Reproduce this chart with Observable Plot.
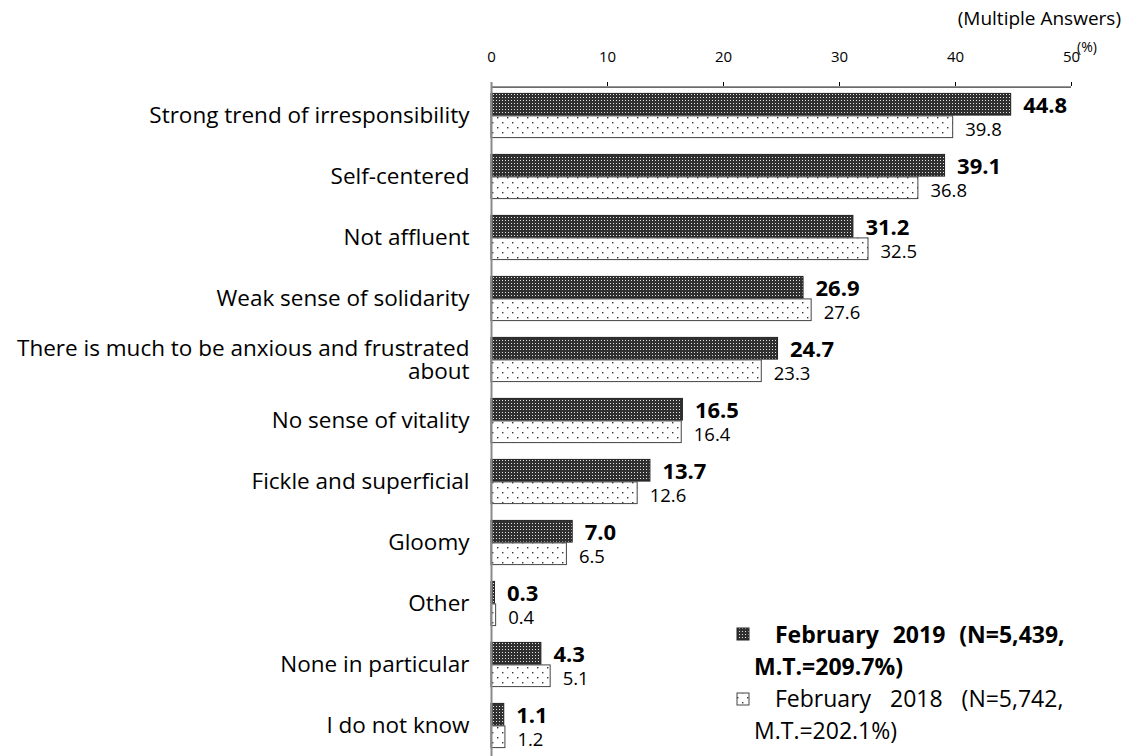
<!DOCTYPE html>
<html><head><meta charset="utf-8">
<script src="https://cdn.jsdelivr.net/npm/d3@7"></script>
<script src="https://cdn.jsdelivr.net/npm/@observablehq/plot@0.6"></script>
<style>body{margin:0;background:#fff}</style>
</head><body><div id="chart"></div><script>
const categories = ["Strong trend of irresponsibility","Self-centered","Not affluent","Weak sense of solidarity","There is much to be anxious and frustrated about","No sense of vitality","Fickle and superficial","Gloomy","Other","None in particular","I do not know"];
const v2019 = [44.8,39.1,31.2,26.9,24.7,16.5,13.7,7.0,0.3,4.3,1.1];
const v2018 = [39.8,36.8,32.5,27.6,23.3,16.4,12.6,6.5,0.4,5.1,1.2];
const xTicks = [0,10,20,30,40,50];
const legendLines = [["February 2019 (N=5,439,","M.T.=209.7%)"],["February 2018 (N=5,742,","M.T.=202.1%)"]];

const d19 = categories.map((c,i)=>({c, v:v2019[i]}));
const d18 = categories.map((c,i)=>({c, v:v2018[i]}));

const H = 756, MT = 80, MB = 0;
const yRange = [80, 760];
const band = (yRange[1] - yRange[0]) / categories.length;
const half = 22.5;
const pad = (band - 2 * half) / 2;
const font = "'Open Sans', Lato, sans-serif";

const svg = Plot.plot({
  width: 1127, height: H,
  marginLeft: 491, marginRight: 56, marginTop: MT, marginBottom: MB,
  style: {fontFamily: font, fontSize: "21px", color: "#000", background: "#fff"},
  x: {domain: [0,50], axis: null},
  y: {domain: categories, padding: 0, range: yRange, axis: null},
  marks: [
    Plot.barX(d19, {x: "v", y: "c", fill: "url(#p19)", stroke: "#222", strokeWidth: 1, insetTop: pad, insetBottom: band - pad - half}),
    Plot.barX(d18, {x: "v", y: "c", fill: "url(#p18)", stroke: "#444", strokeWidth: 1, insetTop: pad + half, insetBottom: pad}),
    Plot.text(d19, {x: "v", y: "c", text: d => d.v.toFixed(1), dx: 12, dy: -10, textAnchor: "start", fontWeight: "bold", fontSize: 22, fill: "#000"}),
    Plot.text(d18, {x: "v", y: "c", text: d => d.v.toFixed(1), dx: 12, dy: 14, textAnchor: "start", fontSize: 18.5, fill: "#000"}),
    Plot.axisY({label: null, tickSize: 0, tickPadding: 22, fontSize: 22.5, lineHeight: 1.03,
      tickFormat: d => d === "There is much to be anxious and frustrated about" ? "There is much to be anxious and frustrated\nabout" : d}),
    Plot.axisX(xTicks, {label: null, anchor: "top", tickSize: 0, tickPadding: 19, fontSize: 15}),
    Plot.tickX(xTicks, {x: d => d, stroke: "#000", insetTop: 2, insetBottom: H - MT - MB - 6}),
    Plot.ruleY([0], {y: () => categories[0], dy: -band/2 + 2, stroke: "#000", x1: 0, x2: 50}),
    Plot.ruleX([0], {stroke: "#8a8a8a", strokeWidth: 2, insetTop: 2})
  ]
});

const s = d3.select(svg);
const defs = s.insert("defs", ":first-child");
const p19 = defs.append("pattern").attr("id","p19").attr("patternUnits","userSpaceOnUse").attr("width",3).attr("height",3);
p19.append("rect").attr("width",3).attr("height",3).attr("fill","#303030");
p19.append("rect").attr("x",1).attr("y",1).attr("width",1).attr("height",1).attr("fill","#e0e0e0");
const p18 = defs.append("pattern").attr("id","p18").attr("patternUnits","userSpaceOnUse").attr("width",10).attr("height",10);
p18.append("rect").attr("width",10).attr("height",10).attr("fill","#fff");
p18.append("rect").attr("x",2).attr("y",2).attr("width",1.4).attr("height",1.4).attr("fill","#333");
p18.append("rect").attr("x",7).attr("y",7).attr("width",1.4).attr("height",1.4).attr("fill","#333");

// header texts
s.append("text").attr("x",1121).attr("y",25).attr("text-anchor","end").attr("font-size",19).text("(Multiple Answers)");
s.append("text").attr("x",1077).attr("y",52).attr("text-anchor","start").attr("font-size",14).text("(%)");

// legend
const lg = s.append("g").attr("font-size",23).attr("text-anchor","start");
lg.append("rect").attr("x",737).attr("y",628).attr("width",12).attr("height",12).attr("fill","url(#p19)").attr("stroke","#222");
lg.append("text").attr("x",775).attr("y",643).attr("font-weight","bold").attr("word-spacing",8).text(legendLines[0][0]);
lg.append("text").attr("x",754).attr("y",675).attr("font-weight","bold").text(legendLines[0][1]);
lg.append("rect").attr("x",737).attr("y",693).attr("width",12).attr("height",12).attr("fill","url(#p18)").attr("stroke","#444");
lg.append("text").attr("x",775).attr("y",707).attr("word-spacing",13).text(legendLines[1][0]);
lg.append("text").attr("x",754).attr("y",739).text(legendLines[1][1]);

document.getElementById("chart").appendChild(svg);
</script></body></html>
